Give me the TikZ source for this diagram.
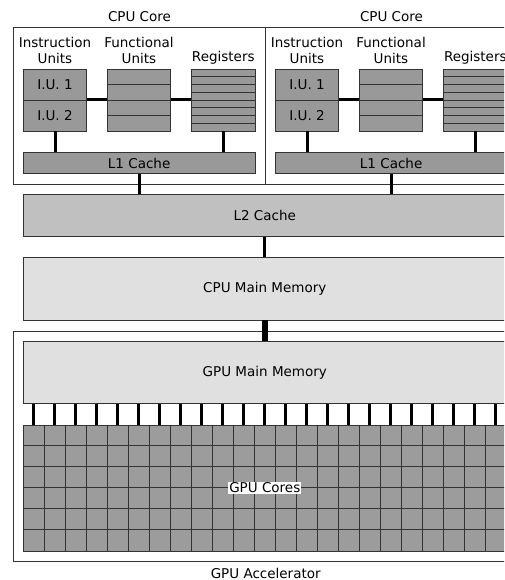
\documentclass[tikz,border=0pt]{standalone}
\usepackage{fontspec}
\setmainfont{DejaVu Sans}
\usetikzlibrary{calc}
\definecolor{unitgray}{RGB}{153,153,153}
\definecolor{ltwogray}{RGB}{192,192,192}
\definecolor{memgray}{RGB}{224,224,224}
\definecolor{gridgray}{RGB}{156,156,156}
\begin{document}
\begin{tikzpicture}[x=1pt,y=-1pt,
  font=\fontsize{13.5}{16}\selectfont,
  frame/.style={draw=black!80, line width=0.8pt, inner sep=0pt},
  unitbox/.style={frame, fill=unitgray, minimum width=63.4pt, minimum height=62pt},
  cachebox/.style={frame, fill=unitgray, minimum width=231.7pt, minimum height=20.6pt},
  wide/.style={frame, minimum width=483pt},
  thin/.style={draw=black!80, line width=0.8pt},
  link/.style={draw=black, line width=3pt},
  buslink/.style={draw=black, line width=2.6pt},
  bigbus/.style={draw=black, line width=6pt},
  lbl/.style={inner sep=0pt, align=center}]
\useasboundingbox (0,0) rectangle (504,580);
\clip (0,0) rectangle (504,580);

% ---------- CPU cores ----------
\foreach \c/\dx in {a/0, b/252}{
  \node[frame, minimum width=251.7pt, minimum height=156.7pt] (core\c) at (139.15+\dx,105.65) {};
  \node[lbl] (corelbl\c) at (139.5+\dx,16.7) {CPU Core};
  \node[lbl] (iulbl\c) at (55+\dx,50) {Instruction\\Units};
  \node[lbl] (fulbl\c) at (139+\dx,50) {Functional\\Units};
  \node[lbl] (reglbl\c) at (223.3+\dx,58) {Registers};
  % units
  \node[unitbox] (iu\c) at (55+\dx,100) {};
  \node[unitbox] (fu\c) at (139+\dx,100) {};
  \node[unitbox] (reg\c) at (223.3+\dx,100) {};
  \draw[thin] (iu\c.west) -- (iu\c.east);
  \node[lbl] (iuone\c) at (55+\dx,84.5) {I.U. 1};
  \node[lbl] (iutwo\c) at (55+\dx,115.5) {I.U. 2};
  \foreach \f in {0.25,0.5,0.75}
    \draw[thin] ($(fu\c.north west)!\f!(fu\c.south west)$) -- ($(fu\c.north east)!\f!(fu\c.south east)$);
  \foreach \f in {0.125,0.25,0.375,0.5,0.625,0.75,0.875}
    \draw[thin] ($(reg\c.north west)!\f!(reg\c.south west)$) -- ($(reg\c.north east)!\f!(reg\c.south east)$);
  \node[cachebox] (lone\c) at (139.15+\dx,163) {L1 Cache};
  % connectors
  \draw[link] (iu\c.east) -- (fu\c.west);
  \draw[link] (fu\c.east) -- (reg\c.west);
  \draw[link] (iu\c.south) -- (iu\c.south |- lone\c.north);
  \draw[link] (reg\c.south) -- (reg\c.south |- lone\c.north);
}

% ---------- L2 and main memory ----------
\node[wide, fill=ltwogray, minimum height=42.7pt] (ltwo) at (264.8,215.35) {L2 Cache};
\draw[link] (lonea.south) -- (lonea.south |- ltwo.north);
\draw[link] (loneb.south) -- (loneb.south |- ltwo.north);
\node[wide, fill=memgray, minimum height=62.3pt] (cpumm) at (264.8,288.85) {CPU Main Memory};
\draw[link] (ltwo.south) -- (cpumm.north);

% ---------- GPU accelerator ----------
\node[frame, minimum width=503pt, minimum height=230.7pt] (gpuacc) at (264.8,446.35) {};
\node[lbl] (gpuacclbl) at (265.7,573.3) {GPU Accelerator};
\node[wide, fill=memgray, minimum height=61.6pt] (gpumm) at (264.8,372.5) {GPU Main Memory};
\draw[bigbus] (cpumm.south) -- (cpumm.south |- gpuacc.north) -- (gpumm.north);

\node[wide, fill=gridgray, minimum height=126pt] (gpucores) at (264.8,488) {};
\foreach \i in {1,...,22}
  \draw[thin] ([xshift=21*\i pt]gpucores.north west) -- ([xshift=21*\i pt]gpucores.south west);
\foreach \j in {1,...,5}
  \draw[thin] ([yshift=-21*\j pt]gpucores.north west) -- ([yshift=-21*\j pt]gpucores.north east);
\foreach \i in {0,...,22}{
  \coordinate (col\i) at ([xshift=21*\i pt+10.5pt]gpucores.north west);
  \draw[buslink] (col\i) -- (col\i |- gpumm.south);
}
\node[fill=white, inner sep=1pt] (gpucoreslbl) at (gpucores.center) {GPU Cores};
\end{tikzpicture}
\end{document}
